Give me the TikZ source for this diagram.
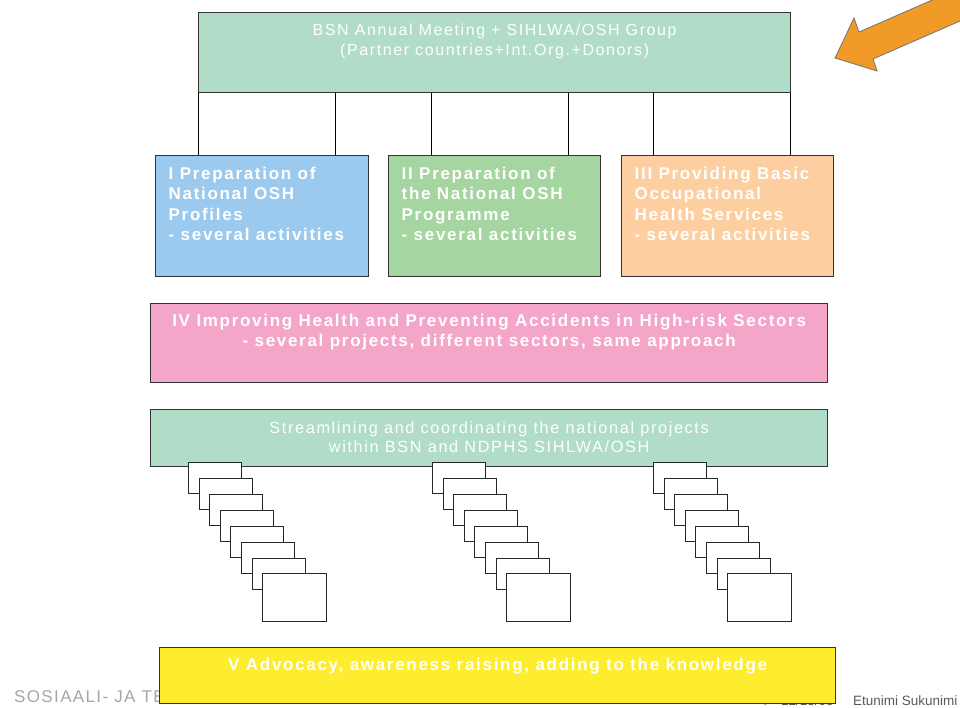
\documentclass[tikz,border=0pt]{standalone}
\usepackage{fontspec}
\setmainfont{Liberation Sans}
\newfontfamily\slidefont[LetterSpace=10]{Liberation Sans}
\newfontfamily\logofont[LetterSpace=8]{Liberation Sans}

\definecolor{mint}{HTML}{B0DCC8}
\definecolor{skyblue}{HTML}{9BCAEE}
\definecolor{leafgreen}{HTML}{A5D5A0}
\definecolor{peach}{HTML}{FDCFA0}
\definecolor{rosepink}{HTML}{F3A6C8}
\definecolor{lemon}{HTML}{FDED2E}
\definecolor{amber}{HTML}{F09A28}

% text block of fixed size: width, height, top padding, alignment, text
\newcommand\blocktext[5]{\parbox[t][#2][t]{#1}{\vspace*{#3}#4\strut #5}}

\tikzset{
  panel/.style={draw=black!80, line width=1.3pt, anchor=north west,
    inner sep=0pt, text=white},
  plainfont/.style={font=\slidefont\fontsize{#1}{19.5}\selectfont},
  boldfont/.style={font=\slidefont\bfseries\fontsize{17}{#1}\selectfont},
  linkline/.style={draw=black, line width=1pt},
  sheet/.style={draw=black!85, line width=1.2pt, fill=white, anchor=north west,
    inner sep=0pt},
  footnote/.style={anchor=base west, inner sep=0pt, text=black!65,
    font=\fontsize{13.5}{14}\selectfont},
}

\begin{document}
\begin{tikzpicture}[x=1pt,y=-1pt]
\useasboundingbox (0,0) rectangle (960,708);
\clip (0,0) rectangle (960,708);

% steering group
\node[panel, fill=mint, plainfont=16] (meeting) at (198,12)
  {\blocktext{592pt}{80pt}{9.3pt}{\centering}{BSN Annual Meeting + SIHLWA/OSH Group\\
   (Partner countries+Int.Org.+Donors)}};

% three work packages
\node[panel, fill=skyblue, boldfont=20.3] (wp1) at (155,155)
  {\blocktext{213pt}{121pt}{9.8pt}{\raggedright\leftskip=13pt}{I Preparation of\\National OSH\\Profiles\\- several activities}};
\node[panel, fill=leafgreen, boldfont=20.3] (wp2) at (388,155)
  {\blocktext{212pt}{121pt}{9.8pt}{\raggedright\leftskip=13pt}{II Preparation of\\the National OSH\\Programme\\- several activities}};
\node[panel, fill=peach, boldfont=20.3] (wp3) at (621,155)
  {\blocktext{212pt}{121pt}{9.8pt}{\raggedright\leftskip=13pt}{III Providing Basic\\Occupational\\Health Services\\- several activities}};

% links from the steering group down to the work packages
\coordinate (j1) at (198,155);
\coordinate (j2) at (335,155);
\coordinate (j3) at (431,155);
\coordinate (j4) at (568,155);
\coordinate (j5) at (653,155);
\coordinate (j6) at (790,155);
\foreach \j in {j1,j2,j3,j4,j5,j6}
  \draw[linkline] (meeting.south -| \j) -- (\j);

% high-risk sectors
\node[panel, fill=rosepink, boldfont=20] (wp4) at (150,303)
  {\blocktext{677pt}{79pt}{9pt}{\centering}{IV Improving Health and Preventing Accidents in High-risk Sectors\\
   - several projects, different sectors, same approach}};

% coordination of national projects
\node[panel, fill=mint, font=\slidefont\fontsize{16.3}{19}\selectfont] (coord) at (150,409)
  {\blocktext{677pt}{57pt}{10.7pt}{\centering}{Streamlining and coordinating the national projects\\
   within BSN and NDPHS SIHLWA/OSH}};

% stacks of national projects, each sheet shifted right and down
\foreach \g/\ox in {a/188,b/432,c/653} {
  \foreach \k/\dx in {0/0,1/11,2/21,3/32,4/42,5/53,6/64}
    \node[sheet, minimum width=53pt, minimum height=31pt] (\g\k) at (\ox+\dx,462+16*\k) {};
  \node[sheet, minimum width=64pt, minimum height=48pt] (\g7) at (\ox+74,573) {};
}

% footer
\node[anchor=base west, inner sep=0pt, text=black!35, font=\logofont\fontsize{17}{17}\selectfont] (ministry) at (14,702)
  {SOSIAALI- JA TERVEYSMINISTERIÖ};
\node[footnote] (pageno) at (760,705) {4};
\node[footnote] (date) at (781,705) {12/13/08};
\node[footnote] (author) at (853,705) {Etunimi Sukunimi};

% advocacy
\node[panel, fill=lemon, boldfont=20] (wp5) at (159,647)
  {\blocktext{676pt}{56pt}{9pt}{\centering}{V Advocacy, awareness raising, adding to the knowledge}};

% pointer arrow
\filldraw[fill=amber, draw=black!55, line width=0.8pt, line join=miter]
  (835,58) -- (854,18) -- (859,32) -- (1033,-44) -- (1047,-17) -- (873,59) -- (877,71) -- cycle;
\end{tikzpicture}
\end{document}
